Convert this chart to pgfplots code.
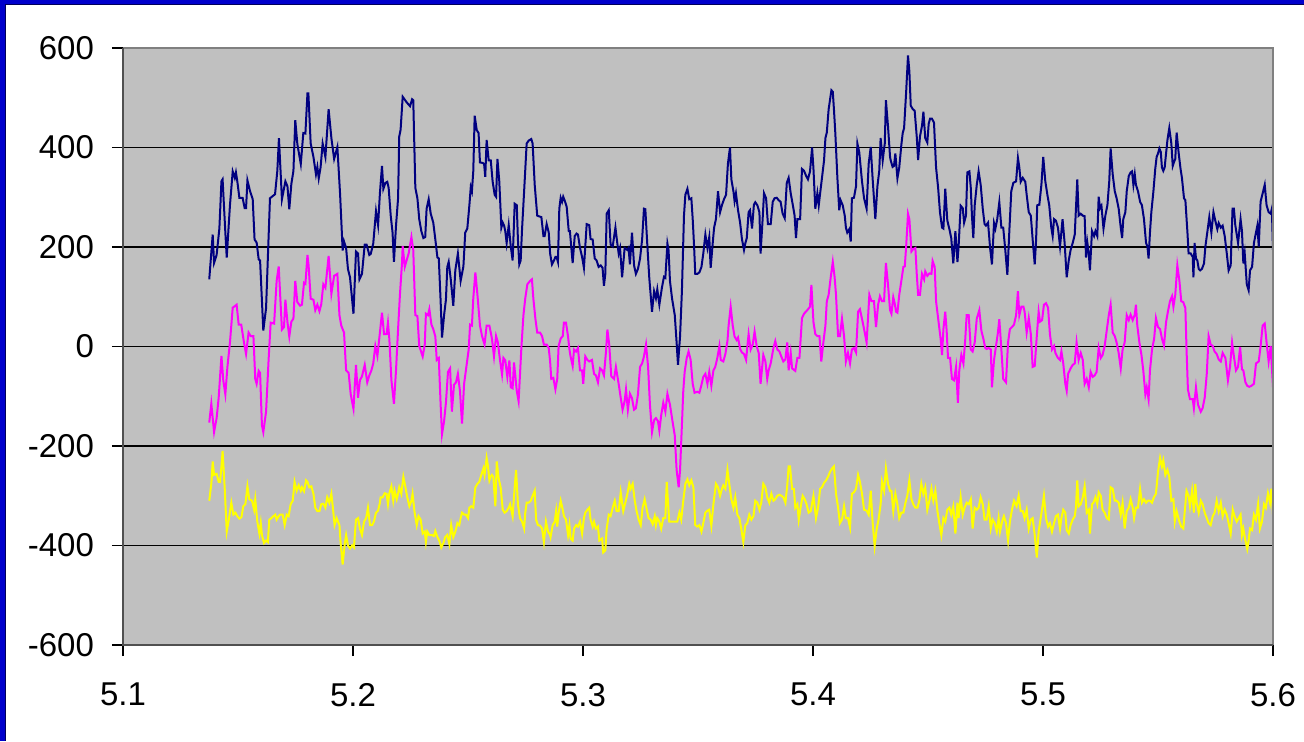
\documentclass[border=0pt]{standalone}
\usepackage{fontspec}
\setmainfont{Liberation Sans}
\usepackage{pgfplots}
\pgfplotsset{compat=1.18}
\definecolor{frameblue}{RGB}{0,0,204}
\definecolor{framedark}{RGB}{0,0,90}
\definecolor{plotgray}{RGB}{192,192,192}
\definecolor{navyline}{RGB}{0,0,128}
\definecolor{magline}{RGB}{255,0,255}
\definecolor{yelline}{RGB}{255,255,0}
\definecolor{edgegray}{RGB}{128,128,128}
\definecolor{axisdark}{RGB}{80,80,80}
\begin{document}
\begin{tikzpicture}
\fill[white] (-61.5pt,-48pt) rectangle (590.5pt,322.5pt);
\path[use as bounding box] (-61.5pt,-48pt) rectangle (590.5pt,322.5pt);
\begin{axis}[
  at={(0,0)}, anchor=south west,
  scale only axis, width=575pt, height=298.5pt,
  xmin=5.1, xmax=5.6, ymin=-600, ymax=600,
  xtick={5.1,5.2,5.3,5.4,5.5,5.6},
  ytick={-600,-400,-200,0,200,400,600},
  ymajorgrids, major grid style={black, line width=0.7pt},
  axis background/.style={fill=plotgray},
  axis line style={draw=none},
  tick align=outside, major tick length=5.5pt,
  xtick pos=bottom, ytick pos=left,
  tick style={black, line width=0.7pt},
  ticklabel style={font=\fontsize{16.5}{20}\selectfont},
  /pgf/number format/assume math mode=true,
  xticklabel style={/pgf/number format/fixed, /pgf/number format/precision=1, /pgf/number format/fixed zerofill, yshift=-10pt},
  yticklabel style={/pgf/number format/fixed, xshift=-5.5pt},
  every axis plot/.append style={line width=1pt, mark=none},
  after end axis/.code={
    \draw[edgegray, line width=0.7pt] (rel axis cs:0,1) -- (rel axis cs:1,1) -- (rel axis cs:1,0);
    \draw[axisdark, line width=0.7pt] (rel axis cs:0,1) -- (rel axis cs:0,0) -- (rel axis cs:1,0);
  },
]
\addplot[navyline] coordinates {
(5.1375,135)(5.1390,225)(5.1396,168)(5.1407,184)(5.1419,237)(5.1428,332)(5.1433,336)(5.1445,229)(5.1451,179)(5.1465,284)(5.1477,352)(5.1486,339)(5.1491,350)(5.1497,332)(5.1506,299)(5.1520,299)(5.1529,278)(5.1535,278)(5.1541,334)(5.1552,313)(5.1564,296)(5.1572,215)(5.1581,209)(5.1590,175)(5.1596,173)(5.1610,32)(5.1622,77)(5.1639,298)(5.1661,306)(5.1671,353)(5.1678,419)(5.1691,296)(5.1706,332)(5.1715,322)(5.1723,276)(5.1732,327)(5.1741,353)(5.1749,455)(5.1758,407)(5.1773,367)(5.1784,429)(5.1793,428)(5.1802,509)(5.1806,509)(5.1816,408)(5.1828,381)(5.1839,346)(5.1845,361)(5.1851,338)(5.1859,360)(5.1868,408)(5.1880,381)(5.1894,477)(5.1906,419)(5.1918,377)(5.1932,401)(5.1944,305)(5.1955,193)(5.1961,211)(5.1970,198)(5.1978,156)(5.1987,139)(5.2002,66)(5.2013,191)(5.2022,187)(5.2028,135)(5.2039,146)(5.2051,205)(5.2059,205)(5.2071,184)(5.2077,186)(5.2088,207)(5.2100,272)(5.2109,244)(5.2117,308)
(5.2126,363)(5.2132,317)(5.2141,329)(5.2149,331)(5.2155,319)(5.2164,263)(5.2172,229)(5.2178,170)(5.2187,243)(5.2196,298)(5.2201,422)(5.2207,436)(5.2216,502)(5.2233,491)(5.2248,483)(5.2257,497)(5.2262,495)(5.2271,319)(5.2280,298)(5.2288,256)(5.2297,232)(5.2306,218)(5.2314,220)(5.2320,277)(5.2329,296)(5.2338,267)(5.2349,249)(5.2358,215)(5.2367,179)(5.2373,177)(5.2381,91)(5.2387,18)(5.2396,63)(5.2404,94)(5.2410,160)(5.2416,170)(5.2425,135)(5.2436,82)(5.2445,154)(5.2456,187)(5.2468,132)(5.2480,161)(5.2488,229)(5.2497,237)(5.2506,284)(5.2512,320)(5.2517,312)(5.2523,353)(5.2529,464)(5.2538,435)(5.2546,429)(5.2552,370)(5.2564,369)(5.2570,367)(5.2575,341)(5.2581,415)(5.2590,374)(5.2599,374)(5.2607,332)(5.2616,305)(5.2622,301)(5.2628,377)(5.2636,332)(5.2645,239)(5.2651,249)(5.2657,243)(5.2662,232)(5.2668,208)(5.2677,244)(5.2686,201)(5.2694,173)(5.2703,287)(5.2712,284)(5.2717,215)(5.2723,165)(5.2729,173)(5.2735,236)(5.2744,312)(5.2755,408)(5.2764,414)(5.2775,417)(5.2781,408)(5.2790,325)(5.2801,263)(5.2819,260)(5.2828,222)(5.2833,222)(5.2842,246)(5.2851,229)(5.2857,187)
(5.2865,165)(5.2874,173)(5.2880,180)(5.2885,180)(5.2891,170)(5.2897,277)(5.2903,299)(5.2909,291)(5.2914,301)(5.2920,294)(5.2929,281)(5.2938,232)(5.2943,232)(5.2955,168)(5.2964,222)(5.2972,227)(5.2978,225)(5.2987,198)(5.2996,180)(5.3004,158)(5.3016,246)(5.3027,244)(5.3033,216)(5.3042,215)(5.3051,177)(5.3059,173)(5.3068,160)(5.3077,163)(5.3085,158)(5.3091,122)(5.3097,146)(5.3103,267)(5.3112,274)(5.3120,205)(5.3129,201)(5.3141,239)(5.3149,208)(5.3155,187)(5.3161,198)(5.3170,139)(5.3181,198)(5.3193,194)(5.3198,198)(5.3204,165)(5.3213,229)(5.3222,163)(5.3230,146)(5.3239,156)(5.3248,177)(5.3257,215)(5.3265,277)(5.3271,276)(5.3280,201)(5.3288,139)(5.3300,70)(5.3309,111)(5.3317,97)(5.3323,115)(5.3332,84)(5.3343,118)(5.3352,140)(5.3358,138)(5.3367,207)(5.3372,194)(5.3378,132)(5.3387,97)(5.3399,63)(5.3407,8)(5.3413,-37)(5.3422,21)(5.3430,111)(5.3439,263)(5.3445,305)(5.3454,317)(5.3462,296)(5.3471,298)(5.3477,256)(5.3483,201)(5.3488,146)(5.3497,146)(5.3506,149)(5.3515,160)(5.3523,187)(5.3532,225)(5.3541,198)(5.3549,220)(5.3555,158)(5.3564,208)(5.3570,239)(5.3578,256)(5.3587,312)(5.3596,270)
(5.3604,284)(5.3613,296)(5.3622,305)(5.3630,367)(5.3639,400)(5.3645,336)(5.3654,312)(5.3659,292)(5.3665,308)(5.3674,274)(5.3683,249)(5.3691,216)(5.3700,194)(5.3706,208)(5.3712,218)(5.3720,270)(5.3726,274)(5.3735,237)(5.3743,285)(5.3749,290)(5.3758,284)(5.3767,270)(5.3772,187)(5.3781,256)(5.3787,308)(5.3796,298)(5.3804,246)(5.3816,246)(5.3825,291)(5.3833,298)(5.3842,299)(5.3851,294)(5.3859,291)(5.3868,267)(5.3877,258)(5.3886,329)(5.3894,339)(5.3903,308)(5.3912,285)(5.3920,263)(5.3926,218)(5.3932,256)(5.3944,256)(5.3952,357)(5.3961,353)(5.3970,343)(5.3978,336)(5.3987,352)(5.3996,400)(5.4002,357)(5.4010,277)(5.4019,308)(5.4025,284)(5.4031,308)(5.4039,339)(5.4048,374)(5.4054,419)(5.4060,430)(5.4068,477)(5.4080,515)(5.4086,512)(5.4091,477)(5.4097,429)(5.4106,339)(5.4114,274)(5.4120,294)(5.4129,284)(5.4138,263)(5.4143,239)(5.4149,229)(5.4158,236)(5.4164,211)(5.4169,298)(5.4178,299)(5.4187,322)(5.4193,408)(5.4201,391)(5.4213,332)(5.4222,298)(5.4233,277)(5.4242,367)(5.4251,401)(5.4259,339)(5.4271,256)(5.4280,322)(5.4288,353)(5.4294,419)(5.4303,374)(5.4312,408)(5.4317,495)(5.4326,443)(5.4335,381)
(5.4338,374)(5.4346,361)(5.4352,363)(5.4358,388)(5.4367,338)(5.4375,360)(5.4384,405)(5.4390,429)(5.4396,439)(5.4405,512)(5.4413,585)(5.4419,553)(5.4425,484)(5.4434,477)(5.4442,474)(5.4451,422)(5.4457,375)(5.4465,422)(5.4474,444)(5.4480,472)(5.4488,419)(5.4497,410)(5.4503,448)(5.4509,458)(5.4517,458)(5.4526,450)(5.4535,360)(5.4544,319)(5.4552,270)(5.4561,239)(5.4567,237)(5.4575,317)(5.4584,253)(5.4593,236)(5.4601,218)(5.4610,167)(5.4619,232)(5.4628,170)(5.4633,201)(5.4642,283)(5.4651,278)(5.4657,249)(5.4665,263)(5.4671,350)(5.4680,352)(5.4686,319)(5.4691,263)(5.4697,218)(5.4703,284)(5.4712,325)(5.4720,352)(5.4729,325)(5.4738,277)(5.4746,246)(5.4752,243)(5.4761,249)(5.4770,198)(5.4778,165)(5.4787,248)(5.4793,237)(5.4801,256)(5.4810,290)(5.4819,239)(5.4827,239)(5.4836,194)(5.4845,144)(5.4854,236)(5.4862,312)(5.4871,329)(5.4883,332)(5.4891,379)(5.4897,360)(5.4903,331)(5.4912,339)(5.4923,331)(5.4929,305)(5.4938,270)(5.4947,263)(5.4955,215)(5.4964,165)(5.4970,215)(5.4975,284)(5.4984,285)(5.4993,325)(5.5001,381)(5.5010,332)(5.5019,305)(5.5027,284)(5.5036,239)(5.5042,222)(5.5048,256)(5.5056,253)(5.5065,239)(5.5074,201)
(5.5085,256)(5.5094,208)(5.5103,139)(5.5112,173)(5.5120,194)(5.5129,208)(5.5138,225)(5.5149,336)(5.5155,263)(5.5164,267)(5.5173,263)(5.5181,262)(5.5187,179)(5.5193,208)(5.5199,187)(5.5204,153)(5.5213,232)(5.5222,222)(5.5228,232)(5.5236,222)(5.5242,301)(5.5248,278)(5.5254,283)(5.5263,237)(5.5271,263)(5.5280,284)(5.5288,332)(5.5294,398)(5.5303,346)(5.5312,312)(5.5320,298)(5.5329,277)(5.5338,239)(5.5344,218)(5.5349,256)(5.5358,270)(5.5364,312)(5.5373,343)(5.5381,350)(5.5387,352)(5.5393,325)(5.5399,346)(5.5404,325)(5.5413,312)(5.5422,291)(5.5430,284)(5.5439,256)(5.5448,208)(5.5454,201)(5.5459,177)(5.5465,229)(5.5471,270)(5.5480,312)(5.5488,357)(5.5494,381)(5.5500,388)(5.5506,398)(5.5512,391)(5.5517,360)(5.5523,353)(5.5529,360)(5.5535,388)(5.5541,415)(5.5549,439)(5.5558,408)(5.5564,363)(5.5569,370)(5.5575,377)(5.5581,430)(5.5590,388)(5.5598,357)(5.5604,339)(5.5613,298)(5.5619,294)(5.5628,229)(5.5633,187)(5.5642,187)(5.5651,180)(5.5654,139)(5.5659,208)(5.5665,177)(5.5671,173)(5.5677,156)(5.5683,153)(5.5691,156)(5.5700,167)(5.5706,201)(5.5715,232)(5.5723,260)(5.5732,229)(5.5741,270)(5.5749,253)(5.5758,236)(5.5764,248)(5.5773,239)(5.5781,243)(5.5790,222)(5.5799,187)(5.5807,153)(5.5816,163)(5.5824,277)(5.5830,277)(5.5836,244)(5.5848,208)(5.5859,256)(5.5865,232)(5.5871,167)(5.5877,187)(5.5886,125)(5.5894,113)(5.5900,153)(5.5909,160)(5.5917,208)(5.5926,229)(5.5932,243)(5.5938,201)(5.5946,291)(5.5955,308)(5.5964,325)(5.5972,284)(5.5981,270)(5.5990,267)(5.5995,277)(5.6000,193)
};
\addplot[magline] coordinates {
(5.1375,-153)(5.1384,-115)(5.1396,-172)(5.1407,-144)(5.1416,-103)(5.1428,-19)(5.1436,-68)(5.1445,-96)(5.1454,-41)(5.1465,8)(5.1477,78)(5.1494,84)(5.1503,44)(5.1514,44)(5.1526,8)(5.1535,-15)(5.1546,28)(5.1555,21)(5.1567,21)(5.1575,-65)(5.1581,-75)(5.1590,-49)(5.1596,-53)(5.1604,-158)(5.1610,-172)(5.1622,-131)(5.1633,-27)(5.1642,48)(5.1657,46)(5.1668,132)(5.1677,161)(5.1691,34)(5.1700,39)(5.1706,94)(5.1715,49)(5.1723,20)(5.1732,50)(5.1741,56)(5.1749,132)(5.1758,89)(5.1770,82)(5.1778,84)(5.1787,128)(5.1793,126)(5.1802,184)(5.1807,163)(5.1816,96)(5.1828,94)(5.1836,73)(5.1845,84)(5.1854,71)(5.1862,85)(5.1871,125)(5.1880,118)(5.1894,182)(5.1906,106)(5.1918,142)(5.1932,146)(5.1941,63)(5.1949,42)(5.1961,28)(5.1970,-48)(5.1981,-53)(5.1990,-96)(5.2002,-125)(5.2013,-37)(5.2022,-103)(5.2030,-68)(5.2039,-60)(5.2051,-37)(5.2062,-72)(5.2071,-58)(5.2080,-48)(5.2088,-34)(5.2097,1)(5.2106,-19)(5.2117,28)
(5.2126,68)(5.2135,25)(5.2146,25)(5.2152,48)(5.2158,15)(5.2167,-68)(5.2178,-115)(5.2187,-48)(5.2196,35)(5.2204,104)(5.2213,167)(5.2216,202)(5.2225,160)(5.2233,173)(5.2242,187)(5.2254,220)(5.2262,194)(5.2271,63)(5.2280,61)(5.2288,1)(5.2303,-20)(5.2312,4)(5.2317,66)(5.2326,63)(5.2332,75)(5.2341,44)(5.2349,35)(5.2358,20)(5.2364,-27)(5.2373,-23)(5.2381,-117)(5.2387,-176)(5.2396,-150)(5.2404,-113)(5.2413,-51)(5.2422,-44)(5.2430,-131)(5.2439,-77)(5.2448,-72)(5.2456,-55)(5.2465,-89)(5.2474,-155)(5.2483,-75)(5.2494,-37)(5.2503,-6)(5.2509,44)(5.2517,42)(5.2523,97)(5.2532,149)(5.2541,104)(5.2552,42)(5.2561,21)(5.2572,4)(5.2581,42)(5.2593,42)(5.2604,16)(5.2613,-20)(5.2622,21)(5.2630,8)(5.2639,-27)(5.2648,-56)(5.2654,-23)(5.2662,-28)(5.2671,-61)(5.2680,-28)(5.2686,-82)(5.2694,-84)(5.2700,-32)(5.2712,-89)(5.2720,-110)(5.2732,-3)(5.2741,63)(5.2749,97)(5.2758,125)(5.2770,132)(5.2778,135)(5.2784,97)(5.2793,56)(5.2801,28)(5.2813,28)(5.2822,21)(5.2830,4)(5.2842,4)(5.2851,-3)(5.2857,-30)
(5.2862,-65)(5.2871,-63)(5.2880,-86)(5.2888,-65)(5.2894,1)(5.2903,16)(5.2912,21)(5.2917,48)(5.2926,48)(5.2935,20)(5.2941,-6)(5.2946,-20)(5.2955,-39)(5.2961,-6)(5.2970,-10)(5.2978,-3)(5.2987,-48)(5.2996,-48)(5.3001,-75)(5.3010,-20)(5.3019,-27)(5.3027,-30)(5.3039,-27)(5.3048,-55)(5.3056,-58)(5.3065,-72)(5.3074,-44)(5.3083,-48)(5.3091,-58)(5.3100,-10)(5.3106,34)(5.3114,4)(5.3123,-60)(5.3135,-65)(5.3143,-41)(5.3155,-75)(5.3164,-103)(5.3172,-127)(5.3181,-110)(5.3187,-86)(5.3195,-127)(5.3204,-95)(5.3213,-104)(5.3222,-127)(5.3230,-124)(5.3239,-96)(5.3248,-41)(5.3257,-34)(5.3265,-20)(5.3274,4)(5.3283,-41)(5.3291,-117)(5.3300,-172)(5.3309,-148)(5.3317,-144)(5.3326,-150)(5.3332,-169)(5.3340,-138)(5.3349,-113)(5.3358,-131)(5.3367,-95)(5.3378,-117)(5.3387,-144)(5.3399,-179)(5.3407,-248)(5.3416,-283)(5.3422,-248)(5.3430,-158)(5.3436,-89)(5.3442,-51)(5.3451,-23)(5.3459,-10)(5.3468,-27)(5.3477,-75)(5.3485,-93)(5.3497,-91)(5.3506,-93)(5.3514,-79)(5.3523,-61)(5.3532,-55)(5.3541,-75)(5.3549,-51)(5.3558,-79)(5.3567,-48)(5.3575,-41)(5.3584,-23)(5.3593,1)
(5.3599,-27)(5.3610,-30)(5.3619,-15)(5.3628,11)(5.3633,42)(5.3642,80)(5.3651,42)(5.3659,20)(5.3668,13)(5.3674,18)(5.3683,-5)(5.3691,-12)(5.3700,-15)(5.3709,-27)(5.3714,-3)(5.3720,25)(5.3729,-6)(5.3738,4)(5.3746,30)(5.3755,1)(5.3764,-13)(5.3772,-75)(5.3784,-17)(5.3793,-30)(5.3801,-65)(5.3807,-48)(5.3816,-34)(5.3828,-3)(5.3836,11)(5.3845,-6)(5.3854,-10)(5.3862,-20)(5.3871,-30)(5.3880,-26)(5.3888,8)(5.3894,-48)(5.3903,-13)(5.3909,-44)(5.3923,-49)(5.3932,-23)(5.3941,-23)(5.3952,57)(5.3961,66)(5.3975,73)(5.3987,80)(5.3993,124)(5.4002,49)(5.4010,25)(5.4019,21)(5.4028,21)(5.4036,-30)(5.4045,8)(5.4054,42)(5.4060,91)(5.4068,104)(5.4077,139)(5.4086,170)(5.4094,139)(5.4100,104)(5.4109,21)(5.4117,21)(5.4126,56)(5.4135,21)(5.4143,-30)(5.4152,-13)(5.4161,-34)(5.4169,-6)(5.4178,-3)(5.4187,-12)(5.4196,70)(5.4204,75)(5.4216,49)(5.4225,28)(5.4233,8)(5.4245,104)(5.4254,91)(5.4265,91)(5.4274,39)(5.4283,84)(5.4291,101)(5.4300,91)(5.4309,91)(5.4317,168)(5.4326,125)(5.4335,73)
(5.4341,66)(5.4349,99)(5.4355,87)(5.4361,70)(5.4367,68)(5.4375,104)(5.4384,132)(5.4393,160)(5.4399,161)(5.4405,201)(5.4413,267)(5.4419,256)(5.4428,191)(5.4436,196)(5.4445,198)(5.4451,146)(5.4457,104)(5.4465,104)(5.4474,146)(5.4483,135)(5.4488,151)(5.4497,142)(5.4506,147)(5.4515,146)(5.4520,172)(5.4529,160)(5.4535,91)(5.4546,49)(5.4555,15)(5.4561,-17)(5.4567,35)(5.4575,70)(5.4581,32)(5.4587,-23)(5.4596,-23)(5.4604,-65)(5.4613,-68)(5.4622,-41)(5.4630,-113)(5.4636,-48)(5.4645,-17)(5.4654,-34)(5.4662,15)(5.4668,63)(5.4677,63)(5.4686,-6)(5.4694,-10)(5.4703,8)(5.4712,56)(5.4723,73)(5.4732,32)(5.4741,15)(5.4749,-3)(5.4755,-5)(5.4764,-3)(5.4773,-6)(5.4778,-82)(5.4787,-27)(5.4796,2)(5.4804,28)(5.4810,55)(5.4819,-6)(5.4827,-65)(5.4839,-72)(5.4848,8)(5.4856,35)(5.4865,39)(5.4874,44)(5.4883,63)(5.4891,111)(5.4897,63)(5.4906,80)(5.4915,80)(5.4920,70)(5.4929,28)(5.4938,57)(5.4947,25)(5.4955,-41)(5.4964,-39)(5.4973,21)(5.4981,70)(5.4987,50)(5.4996,53)(5.5004,84)(5.5013,87)(5.5022,78)(5.5030,25)(5.5039,-6)(5.5048,1)(5.5054,-13)(5.5065,-23)(5.5074,-27)
(5.5080,-10)(5.5088,-34)(5.5097,-75)(5.5103,-89)(5.5109,-55)(5.5120,-44)(5.5129,-37)(5.5138,-34)(5.5146,8)(5.5155,-27)(5.5164,-13)(5.5173,-27)(5.5181,-75)(5.5190,-65)(5.5199,-82)(5.5207,-51)(5.5216,-61)(5.5225,-58)(5.5233,-51)(5.5242,-3)(5.5251,-23)(5.5259,-17)(5.5268,1)(5.5277,32)(5.5286,63)(5.5294,84)(5.5303,28)(5.5312,21)(5.5320,8)(5.5329,-13)(5.5338,-44)(5.5346,-6)(5.5355,8)(5.5364,63)(5.5373,53)(5.5381,64)(5.5390,53)(5.5399,64)(5.5404,84)(5.5410,42)(5.5419,8)(5.5428,-17)(5.5436,-48)(5.5445,-96)(5.5451,-82)(5.5459,-106)(5.5465,-48)(5.5474,-6)(5.5483,15)(5.5491,57)(5.5500,39)(5.5509,35)(5.5517,16)(5.5526,2)(5.5535,49)(5.5543,70)(5.5552,91)(5.5561,101)(5.5567,80)(5.5575,104)(5.5584,163)(5.5593,132)(5.5601,91)(5.5610,89)(5.5619,77)(5.5624,-6)(5.5630,-86)(5.5639,-106)(5.5651,-106)(5.5656,-124)(5.5665,-82)(5.5674,-117)(5.5686,-131)(5.5694,-124)(5.5703,-103)(5.5712,-55)(5.5720,21)(5.5729,4)(5.5738,1)(5.5746,-10)(5.5755,-15)(5.5764,-26)(5.5773,-30)(5.5781,-13)(5.5793,-23)(5.5804,-68)(5.5813,-41)(5.5822,8)(5.5830,-20)(5.5839,-48)(5.5848,-41)(5.5857,-1)(5.5865,-46)(5.5871,-48)(5.5880,-72)(5.5888,-79)(5.5897,-81)(5.5906,-79)(5.5917,-75)(5.5926,-34)(5.5938,-30)(5.5946,1)(5.5955,42)(5.5964,46)(5.5972,8)(5.5981,-30)(5.5990,1)(5.6000,-82)
};
\addplot[yelline] coordinates {
(5.1375,-310)(5.1384,-276)(5.1390,-231)(5.1396,-258)(5.1407,-256)(5.1416,-272)(5.1422,-272)(5.1428,-241)(5.1433,-210)(5.1442,-283)(5.1451,-372)(5.1460,-348)(5.1471,-314)(5.1480,-338)(5.1489,-334)(5.1497,-341)(5.1506,-346)(5.1515,-343)(5.1523,-321)(5.1532,-317)(5.1541,-281)(5.1549,-307)(5.1561,-310)(5.1570,-328)(5.1575,-307)(5.1584,-352)(5.1593,-376)(5.1599,-355)(5.1604,-379)(5.1613,-395)(5.1622,-390)(5.1630,-393)(5.1636,-348)(5.1645,-345)(5.1654,-341)(5.1662,-338)(5.1668,-348)(5.1677,-341)(5.1683,-338)(5.1694,-338)(5.1703,-359)(5.1712,-338)(5.1720,-341)(5.1729,-317)(5.1738,-310)(5.1746,-272)(5.1755,-290)(5.1764,-279)(5.1773,-290)(5.1778,-283)(5.1787,-291)(5.1796,-269)(5.1802,-272)(5.1810,-283)(5.1819,-281)(5.1828,-296)(5.1836,-324)(5.1845,-331)(5.1854,-331)(5.1862,-317)(5.1871,-316)(5.1880,-324)(5.1888,-303)(5.1897,-314)(5.1906,-296)(5.1912,-321)(5.1920,-359)(5.1929,-345)(5.1941,-359)(5.1946,-393)(5.1955,-438)(5.1964,-397)(5.1970,-379)(5.1978,-400)(5.1987,-406)(5.1996,-400)(5.2004,-404)(5.2013,-348)(5.2022,-345)(5.2030,-366)(5.2039,-379)(5.2048,-352)(5.2057,-345)(5.2065,-324)(5.2074,-359)(5.2083,-359)(5.2091,-352)(5.2100,-334)(5.2109,-330)(5.2117,-314)
(5.2120,-303)(5.2129,-303)(5.2138,-295)(5.2146,-296)(5.2152,-317)(5.2158,-295)(5.2167,-281)(5.2175,-310)(5.2181,-290)(5.2190,-307)(5.2196,-296)(5.2201,-283)(5.2210,-296)(5.2219,-262)(5.2228,-283)(5.2236,-303)(5.2245,-321)(5.2254,-310)(5.2259,-296)(5.2268,-334)(5.2277,-359)(5.2285,-341)(5.2294,-348)(5.2303,-376)(5.2312,-372)(5.2317,-393)(5.2323,-372)(5.2332,-379)(5.2343,-379)(5.2352,-381)(5.2358,-371)(5.2367,-383)(5.2375,-390)(5.2384,-404)(5.2393,-395)(5.2401,-383)(5.2410,-379)(5.2419,-397)(5.2427,-359)(5.2436,-383)(5.2445,-372)(5.2454,-355)(5.2462,-359)(5.2468,-345)(5.2474,-334)(5.2483,-338)(5.2491,-338)(5.2500,-345)(5.2506,-324)(5.2514,-321)(5.2523,-324)(5.2532,-283)(5.2541,-276)(5.2549,-272)(5.2558,-258)(5.2567,-245)(5.2572,-258)(5.2581,-224)(5.2587,-241)(5.2593,-269)(5.2599,-261)(5.2604,-258)(5.2610,-262)(5.2619,-321)(5.2625,-231)(5.2633,-265)(5.2642,-283)(5.2651,-328)(5.2659,-334)(5.2668,-331)(5.2677,-324)(5.2683,-317)(5.2694,-341)(5.2703,-283)(5.2709,-248)(5.2717,-317)(5.2726,-345)(5.2735,-352)(5.2744,-366)(5.2749,-334)(5.2755,-314)(5.2764,-314)(5.2773,-310)(5.2781,-300)(5.2790,-290)(5.2796,-348)(5.2804,-359)(5.2813,-360)(5.2822,-366)(5.2830,-393)(5.2839,-352)(5.2848,-372)(5.2857,-379)
(5.2859,-383)(5.2868,-359)(5.2877,-352)(5.2883,-331)(5.2888,-362)(5.2894,-334)(5.2903,-310)(5.2912,-328)(5.2917,-341)(5.2926,-348)(5.2935,-379)(5.2941,-359)(5.2946,-386)(5.2955,-390)(5.2961,-366)(5.2970,-359)(5.2978,-362)(5.2987,-352)(5.2996,-376)(5.3004,-345)(5.3010,-334)(5.3019,-328)(5.3027,-324)(5.3033,-348)(5.3042,-362)(5.3048,-352)(5.3056,-366)(5.3065,-362)(5.3071,-390)(5.3083,-386)(5.3088,-414)(5.3097,-410)(5.3103,-366)(5.3112,-338)(5.3120,-341)(5.3129,-324)(5.3138,-310)(5.3146,-331)(5.3155,-331)(5.3164,-293)(5.3170,-314)(5.3175,-331)(5.3184,-314)(5.3193,-296)(5.3201,-276)(5.3207,-286)(5.3216,-276)(5.3225,-310)(5.3233,-331)(5.3242,-348)(5.3251,-359)(5.3259,-324)(5.3268,-307)(5.3277,-328)(5.3285,-345)(5.3294,-348)(5.3303,-357)(5.3312,-341)(5.3317,-359)(5.3323,-345)(5.3332,-352)(5.3340,-366)(5.3349,-345)(5.3358,-345)(5.3364,-272)(5.3375,-352)(5.3387,-352)(5.3399,-352)(5.3410,-352)(5.3419,-334)(5.3427,-348)(5.3436,-310)(5.3445,-276)(5.3454,-267)(5.3462,-279)(5.3471,-269)(5.3480,-283)(5.3488,-359)(5.3497,-362)(5.3506,-359)(5.3515,-372)(5.3523,-355)(5.3532,-334)(5.3541,-330)(5.3549,-328)(5.3558,-360)(5.3567,-317)(5.3578,-276)(5.3587,-283)(5.3596,-300)
(5.3604,-286)(5.3610,-279)(5.3619,-286)(5.3628,-248)(5.3636,-276)(5.3645,-307)(5.3654,-324)(5.3662,-303)(5.3671,-338)(5.3680,-345)(5.3688,-366)(5.3697,-393)(5.3706,-359)(5.3714,-355)(5.3723,-338)(5.3732,-348)(5.3741,-341)(5.3749,-310)(5.3758,-314)(5.3767,-328)(5.3775,-314)(5.3784,-276)(5.3793,-283)(5.3801,-303)(5.3810,-314)(5.3819,-296)(5.3828,-310)(5.3836,-307)(5.3845,-300)(5.3854,-298)(5.3862,-300)(5.3871,-303)(5.3880,-314)(5.3888,-279)(5.3894,-241)(5.3900,-241)(5.3909,-286)(5.3917,-286)(5.3923,-324)(5.3932,-317)(5.3938,-348)(5.3946,-324)(5.3955,-300)(5.3964,-307)(5.3972,-317)(5.3981,-334)(5.3990,-331)(5.4002,-300)(5.4013,-345)(5.4022,-324)(5.4031,-286)(5.4039,-283)(5.4048,-274)(5.4057,-269)(5.4065,-262)(5.4074,-252)(5.4083,-245)(5.4091,-241)(5.4100,-296)(5.4109,-324)(5.4117,-355)(5.4126,-348)(5.4135,-321)(5.4143,-345)(5.4152,-345)(5.4161,-364)(5.4169,-296)(5.4178,-293)(5.4187,-286)(5.4196,-258)(5.4204,-272)(5.4213,-296)(5.4222,-328)(5.4233,-330)(5.4242,-338)(5.4251,-290)(5.4259,-352)(5.4268,-401)(5.4277,-366)(5.4285,-348)(5.4294,-317)(5.4300,-272)(5.4309,-290)(5.4317,-245)(5.4326,-276)(5.4335,-290)
(5.4341,-290)(5.4349,-331)(5.4358,-296)(5.4367,-317)(5.4375,-345)(5.4384,-334)(5.4393,-334)(5.4402,-314)(5.4410,-300)(5.4419,-269)(5.4428,-307)(5.4436,-317)(5.4445,-324)(5.4454,-324)(5.4462,-310)(5.4471,-276)(5.4480,-296)(5.4488,-283)(5.4497,-328)(5.4506,-310)(5.4515,-286)(5.4523,-310)(5.4532,-290)(5.4541,-331)(5.4549,-355)(5.4558,-379)(5.4567,-345)(5.4575,-352)(5.4584,-328)(5.4593,-324)(5.4601,-338)(5.4610,-321)(5.4619,-376)(5.4628,-314)(5.4633,-345)(5.4642,-303)(5.4651,-338)(5.4659,-324)(5.4668,-314)(5.4677,-317)(5.4686,-307)(5.4694,-366)(5.4703,-324)(5.4712,-328)(5.4720,-324)(5.4729,-303)(5.4738,-317)(5.4746,-348)(5.4755,-348)(5.4764,-321)(5.4773,-366)(5.4781,-348)(5.4790,-355)(5.4799,-372)(5.4807,-345)(5.4813,-372)(5.4822,-352)(5.4830,-341)(5.4839,-355)(5.4848,-390)(5.4856,-352)(5.4865,-328)(5.4874,-310)(5.4885,-321)(5.4894,-300)(5.4903,-331)(5.4912,-331)(5.4920,-345)(5.4929,-328)(5.4938,-366)(5.4947,-348)(5.4955,-345)(5.4964,-379)(5.4973,-424)(5.4981,-372)(5.4990,-345)(5.4999,-317)(5.5004,-300)(5.5013,-345)(5.5022,-362)(5.5030,-355)(5.5039,-372)(5.5048,-355)(5.5056,-341)(5.5065,-338)(5.5074,-366)
(5.5080,-345)(5.5088,-328)(5.5097,-334)(5.5103,-369)(5.5112,-376)(5.5120,-359)(5.5129,-348)(5.5138,-341)(5.5143,-324)(5.5149,-269)(5.5155,-321)(5.5164,-317)(5.5173,-303)(5.5181,-281)(5.5190,-334)(5.5199,-328)(5.5204,-376)(5.5213,-317)(5.5219,-314)(5.5228,-303)(5.5236,-317)(5.5242,-293)(5.5251,-300)(5.5259,-328)(5.5268,-334)(5.5277,-345)(5.5286,-348)(5.5294,-283)(5.5303,-286)(5.5312,-310)(5.5320,-310)(5.5329,-314)(5.5338,-338)(5.5346,-314)(5.5355,-366)(5.5364,-331)(5.5373,-324)(5.5381,-307)(5.5390,-324)(5.5396,-345)(5.5404,-324)(5.5413,-324)(5.5422,-286)(5.5430,-314)(5.5439,-307)(5.5448,-314)(5.5456,-310)(5.5465,-310)(5.5474,-314)(5.5482,-303)(5.5491,-296)(5.5500,-252)(5.5509,-224)(5.5517,-241)(5.5523,-229)(5.5532,-258)(5.5541,-248)(5.5549,-262)(5.5558,-310)(5.5567,-307)(5.5573,-352)(5.5581,-331)(5.5593,-352)(5.5601,-362)(5.5610,-366)(5.5619,-317)(5.5624,-290)(5.5633,-300)(5.5639,-321)(5.5648,-290)(5.5656,-334)(5.5662,-276)(5.5668,-314)(5.5677,-334)(5.5686,-310)(5.5694,-317)(5.5703,-334)(5.5712,-345)(5.5720,-355)(5.5729,-359)(5.5738,-341)(5.5746,-334)(5.5755,-310)(5.5764,-331)(5.5773,-314)(5.5781,-341)(5.5790,-328)(5.5799,-338)(5.5807,-355)(5.5816,-376)(5.5825,-328)(5.5833,-341)(5.5842,-352)(5.5851,-345)(5.5859,-338)(5.5865,-379)(5.5871,-366)(5.5880,-390)(5.5888,-407)(5.5894,-390)(5.5900,-366)(5.5909,-369)(5.5917,-338)(5.5926,-348)(5.5935,-317)(5.5943,-366)(5.5952,-352)(5.5961,-317)(5.5969,-324)(5.5978,-295)(5.5987,-314)(5.5993,-286)(5.6000,-338)
};
\end{axis}
\fill[frameblue] (-61.5pt,-48pt) rectangle (-59pt,322.5pt);
\fill[framedark] (-59pt,-48pt) rectangle (-58.5pt,320pt);
\fill[frameblue] (-61.5pt,320.5pt) rectangle (590.5pt,322.5pt);
\fill[framedark] (-59pt,320pt) rectangle (590.5pt,320.5pt);
\end{tikzpicture}
\end{document}
